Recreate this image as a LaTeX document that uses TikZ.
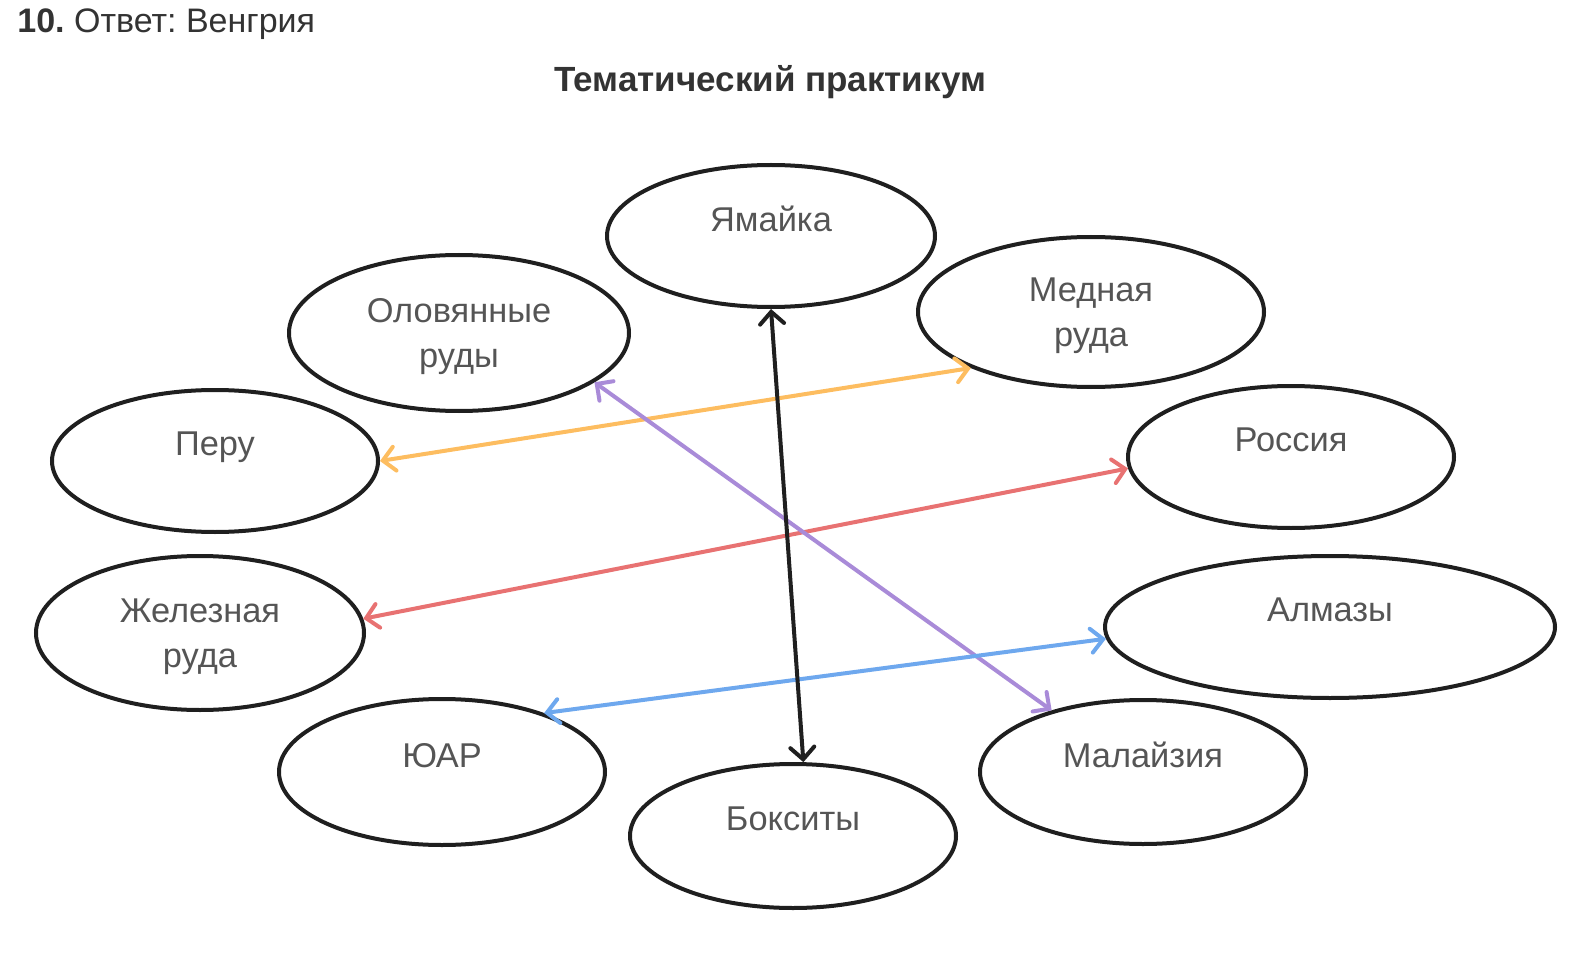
\documentclass[tikz,border=0pt]{standalone}
\usepackage{fontspec}
\setmainfont{Liberation Sans}
\usetikzlibrary{shapes.geometric,arrows.meta}
\definecolor{txtgray}{HTML}{555555}
\definecolor{headgray}{HTML}{333333}
\definecolor{arrorange}{HTML}{FDBD60}
\definecolor{arrred}{HTML}{E87272}
\definecolor{arrpurple}{HTML}{A98BD8}
\definecolor{arrblue}{HTML}{6EA8EE}
\frenchspacing

\begin{document}
\begin{tikzpicture}[x=0.5pt,y=-0.5pt,
	oval/.style={draw=black!88,line width=2pt,ellipse,inner sep=0pt,text=txtgray,align=center,font=\fontsize{17.2}{22.5}\selectfont},
	oneline/.style={text depth=17pt},
	twoline/.style={text depth=0pt},
	link/.style={<->,line width=2pt,>={Straight Barb[length=6pt,width=12pt,line cap=round]}}]
	\useasboundingbox (0,0) rectangle (1569,973);
	\node[anchor=base west,inner sep=0pt,text=headgray,font=\fontsize{17}{20}\selectfont] (answer) at (17,33) {\textbf{10.} Ответ: Венгрия};
	\node[anchor=base,text=headgray,font=\fontsize{17.5}{20}\selectfont\bfseries] (title) at (770,92) {Тематический практикум};
	\node[oval,oneline,minimum width=164pt,minimum height=71pt] (jam) at (771,236) {Ямайка};
	\node[oval,twoline,minimum width=170pt,minimum height=78pt] (tin) at (459,333) {Оловянные\\руды};
	\node[oval,twoline,minimum width=173pt,minimum height=75pt] (cop) at (1091,312) {Медная\\руда};
	\node[oval,oneline,minimum width=163pt,minimum height=71pt] (per) at (215,461) {Перу};
	\node[oval,oneline,minimum width=163pt,minimum height=71pt] (rus) at (1291,457) {Россия};
	\node[oval,twoline,minimum width=164pt,minimum height=77pt] (iron) at (200,633) {Железная\\руда};
	\node[oval,oneline,minimum width=225pt,minimum height=71pt] (alm) at (1330,627) {Алмазы};
	\node[oval,oneline,minimum width=163pt,minimum height=73pt] (sa) at (442,772) {ЮАР};
	\node[oval,oneline,minimum width=163pt,minimum height=72pt] (mal) at (1143,772) {Малайзия};
	\node[oval,oneline,minimum width=163pt,minimum height=72pt] (bok) at (793,836) {Бокситы};
	\draw[link,arrorange] (per.east) -- (cop.205);
	\draw[link,arrred] (iron.5) -- (rus.184);
	\draw[link,arrpurple] (tin.340) -- (mal.146);
	\draw[link,arrblue] (sa.30) -- (alm.183);
	\draw[link,black!88] (jam.south) -- (bok.82);
\end{tikzpicture}
\end{document}
